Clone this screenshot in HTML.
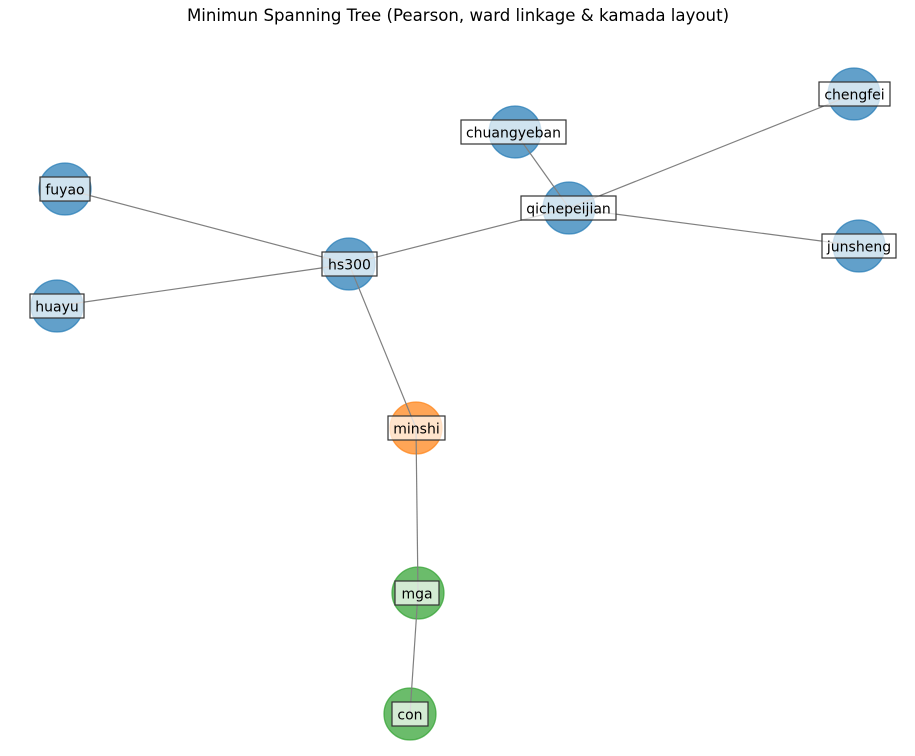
<!DOCTYPE html>
<html><head><meta charset="utf-8"><style>
html,body{margin:0;padding:0;background:#fff;}
svg{display:block;font-family:"DejaVu Sans","Liberation Sans",sans-serif;}
</style></head><body>
<svg width="915" height="756" viewBox="0 0 915 756" xmlns="http://www.w3.org/2000/svg">
<rect width="915" height="756" fill="#fff"/>
<text x="458" y="21" text-anchor="middle" font-size="16.6">Minimun Spanning Tree (Pearson, ward linkage &amp; kamada layout)</text>
<g stroke-width="1.3" stroke-opacity="0.7">
<circle cx="854" cy="94" r="26" fill="#1f77b4" fill-opacity="0.7" stroke="#1f77b4"/>
<circle cx="515" cy="132" r="26" fill="#1f77b4" fill-opacity="0.7" stroke="#1f77b4"/>
<circle cx="65" cy="189" r="26" fill="#1f77b4" fill-opacity="0.7" stroke="#1f77b4"/>
<circle cx="569" cy="208" r="26" fill="#1f77b4" fill-opacity="0.7" stroke="#1f77b4"/>
<circle cx="859" cy="246" r="26" fill="#1f77b4" fill-opacity="0.7" stroke="#1f77b4"/>
<circle cx="349" cy="264" r="26" fill="#1f77b4" fill-opacity="0.7" stroke="#1f77b4"/>
<circle cx="57" cy="306" r="26" fill="#1f77b4" fill-opacity="0.7" stroke="#1f77b4"/>
<circle cx="416" cy="428" r="26" fill="#ff7f0e" fill-opacity="0.7" stroke="#ff7f0e"/>
<circle cx="418" cy="593" r="26" fill="#2ca02c" fill-opacity="0.7" stroke="#2ca02c"/>
<circle cx="410" cy="714" r="26" fill="#2ca02c" fill-opacity="0.7" stroke="#2ca02c"/>
</g>
<g stroke="#808080" stroke-width="1.2">
<line x1="349" y1="264" x2="65" y2="189"/>
<line x1="349" y1="264" x2="57" y2="306"/>
<line x1="349" y1="264" x2="569" y2="208"/>
<line x1="349" y1="264" x2="416" y2="428"/>
<line x1="569" y1="208" x2="515" y2="132"/>
<line x1="569" y1="208" x2="854" y2="94"/>
<line x1="569" y1="208" x2="859" y2="246"/>
<line x1="416" y1="428" x2="418" y2="593"/>
<line x1="418" y1="593" x2="410" y2="714"/>
</g>
<g fill="#fff" fill-opacity="0.7" stroke="#333" stroke-width="1.2">
<rect x="819" y="82" width="71" height="24"/>
<rect x="461" y="120" width="105" height="24"/>
<rect x="40" y="177" width="50" height="24"/>
<rect x="521" y="196" width="95" height="24"/>
<rect x="822" y="234" width="74" height="24"/>
<rect x="322" y="252" width="55" height="24"/>
<rect x="30" y="294" width="54" height="24"/>
<rect x="388" y="416" width="57" height="24"/>
<rect x="395" y="581" width="44" height="24"/>
<rect x="392" y="702" width="36" height="24"/>
</g>
<g font-size="14" text-anchor="middle" fill="#000">
<text x="854.5" y="99.5">chengfei</text>
<text x="513.5" y="137.5">chuangyeban</text>
<text x="65" y="194.5">fuyao</text>
<text x="568.5" y="213.5">qichepeijian</text>
<text x="859" y="251.5">junsheng</text>
<text x="349.5" y="269.5">hs300</text>
<text x="57" y="311.5">huayu</text>
<text x="416.5" y="433.5">minshi</text>
<text x="417" y="598.5">mga</text>
<text x="410" y="719.5">con</text>
</g>
</svg>
</body></html>
